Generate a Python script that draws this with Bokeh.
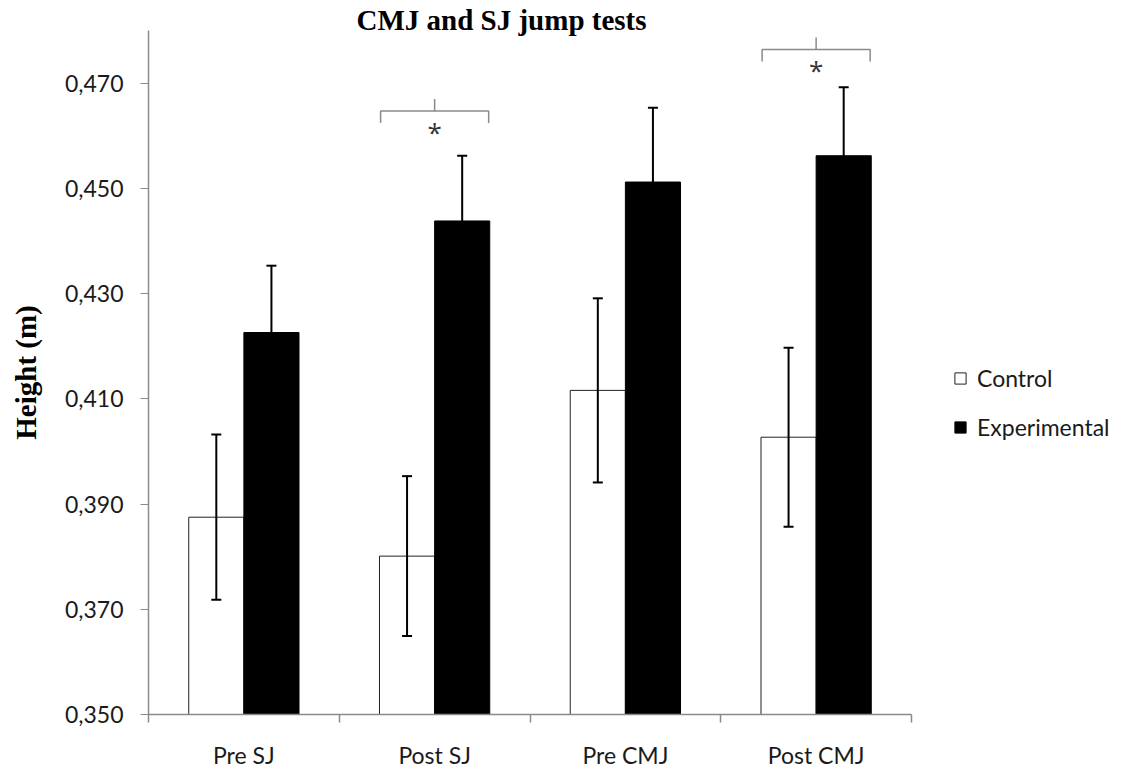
from bokeh.plotting import figure
from bokeh.layouts import row
from bokeh.models import (FixedTicker, Whisker, TeeHead, ColumnDataSource,
                          Legend, LegendItem, Range1d)
from bokeh.embed import file_html
from bokeh.resources import INLINE
from bokeh.core.properties import value

# ---- data ----
categories = ["Pre SJ", "Post SJ", "Pre CMJ", "Post CMJ"]
control = [0.3875, 0.3801, 0.4116, 0.4027]
control_err = [0.0157, 0.0152, 0.0175, 0.0170]
experimental = [0.4226, 0.4438, 0.4512, 0.4562]
experimental_err = [0.0127, 0.0124, 0.0141, 0.0130]
y_ticks = [0.35, 0.37, 0.39, 0.41, 0.43, 0.45, 0.47]
y_tick_labels = ["0,350", "0,370", "0,390", "0,410", "0,430", "0,450", "0,470"]
series_names = ["Control", "Experimental"]
sig_index = [1, 3]            # categories with a significance bracket
sig_bracket_y = [0.4647, 0.4764]
sig_mark = ["*", "*"]

BAR_W = 0.289
GRAY = "#8a8a8a"
TXT = "#1a1a1a"
FONT = "Lato"

n = len(categories)
centers = [i + 0.5 for i in range(n)]
x_ctrl = [c - BAR_W / 2 for c in centers]
x_exp = [c + BAR_W / 2 for c in centers]

src_c = ColumnDataSource(dict(x=x_ctrl, top=control,
                              upper=[v + e for v, e in zip(control, control_err)],
                              lower=[v - e for v, e in zip(control, control_err)]))
src_e = ColumnDataSource(dict(x=x_exp, top=experimental,
                              upper=[v + e for v, e in zip(experimental, experimental_err)],
                              lower=[v - e for v, e in zip(experimental, experimental_err)]))

p = figure(width=941, height=771, output_backend="svg", toolbar_location=None,
           x_range=Range1d(0, n), y_range=Range1d(0.35, 0.48),
           min_border_left=148, min_border_right=30, min_border_top=30,
           min_border_bottom=56)
p.outline_line_color = None
p.xgrid.visible = False
p.ygrid.visible = False

# title
p.title.text = "CMJ and SJ jump tests"
p.title.align = "left"
p.title.offset = 208
p.title.standoff = -10
p.title.text_font = "Liberation Serif"
p.title.text_font_style = "bold"
p.title.text_font_size = "29px"
p.title.text_color = "black"

p.vbar(x="x", top="top", bottom=0.35, width=BAR_W, source=src_c,
       fill_color="white", line_color="#222222", line_width=1)
p.vbar(x="x", top="top", bottom=0.35, width=BAR_W, source=src_e,
       fill_color="black", line_color="black", line_width=1)

for s in (src_c, src_e):
    w = Whisker(base="x", upper="upper", lower="lower", source=s, dimension="height",
                line_color="black", line_width=2, level="annotation",
                upper_head=TeeHead(size=10, line_width=2, line_color="black"),
                lower_head=TeeHead(size=10, line_width=2, line_color="black"))
    p.add_layout(w)

# significance brackets
half = BAR_W * 0.98
tick = 0.00227
xs, ys = [], []
for i, by in zip(sig_index, sig_bracket_y):
    c = centers[i]
    xs.append([c - half, c - half, c + half, c + half])
    ys.append([by - tick, by, by, by - tick])
    xs.append([c, c])
    ys.append([by, by + tick])
p.multi_line(xs=xs, ys=ys, line_color=GRAY, line_width=1.5)
p.text(x=[centers[i] for i in sig_index], y=[by - 0.0040 for by in sig_bracket_y],
       text=sig_mark, text_align="center", text_baseline="alphabetic",
       text_font=value("Open Sans"), text_font_size="26px", text_color="#333333")

# axes
yax = p.yaxis[0]
yax.ticker = FixedTicker(ticks=y_ticks, minor_ticks=[])
yax.major_label_overrides = {t: l for t, l in zip(y_ticks, y_tick_labels)}
yax.axis_line_color = GRAY
yax.axis_line_width = 1.5
yax.major_tick_line_color = GRAY
yax.major_tick_out = 8
yax.major_tick_in = 0
yax.minor_tick_line_color = None
yax.major_label_text_font = FONT
yax.major_label_text_font_size = "23px"
yax.major_label_text_color = TXT
yax.major_label_standoff = 17
yax.axis_label = "Height (m)"
yax.axis_label_text_font = "Liberation Serif"
yax.axis_label_text_font_style = "bold"
yax.axis_label_text_font_size = "29px"
yax.axis_label_text_color = "black"
yax.axis_label_standoff = 20

xax = p.xaxis[0]
xax.ticker = FixedTicker(ticks=centers, minor_ticks=list(range(n + 1)))
xax.major_label_overrides = {c: l for c, l in zip(centers, categories)}
xax.axis_line_color = GRAY
xax.axis_line_width = 1.5
xax.major_tick_line_color = None
xax.major_tick_out = 0
xax.major_tick_in = 0
xax.minor_tick_line_color = GRAY
xax.minor_tick_line_width = 1.5
xax.minor_tick_out = 8
xax.minor_tick_in = 0
xax.major_label_text_font = FONT
xax.major_label_text_font_size = "23px"
xax.major_label_text_color = TXT
xax.major_label_standoff = 18
xax.axis_label_standoff = 0

# legend panel (separate canvas to the right of the chart)
lf = figure(width=180, height=771, output_backend="svg", toolbar_location=None,
            x_range=Range1d(0, 1), y_range=Range1d(0, 1), min_border=0)
lf.axis.visible = False
lf.xgrid.visible = False
lf.ygrid.visible = False
lf.outline_line_color = None
# swatch renderers kept outside the visible range; only used to draw legend keys
dummy_c = lf.vbar(x=[5], top=[5], bottom=[4], width=0.1,
                  fill_color="white", line_color="#222222", line_width=1)
dummy_e = lf.vbar(x=[5], top=[5], bottom=[4], width=0.1,
                  fill_color="black", line_color="black", line_width=1)
legend = Legend(items=[LegendItem(label=series_names[0], renderers=[dummy_c]),
                       LegendItem(label=series_names[1], renderers=[dummy_e])],
                location=(12, 272), orientation="vertical",
                glyph_width=14, glyph_height=14, label_height=30,
                spacing=19, padding=10, margin=0, label_standoff=10,
                label_text_font=FONT, label_text_font_size="23px",
                label_text_color=TXT, border_line_color=None,
                background_fill_alpha=0)
lf.add_layout(legend)

open("out.html", "w").write(file_html(row(p, lf), INLINE))
